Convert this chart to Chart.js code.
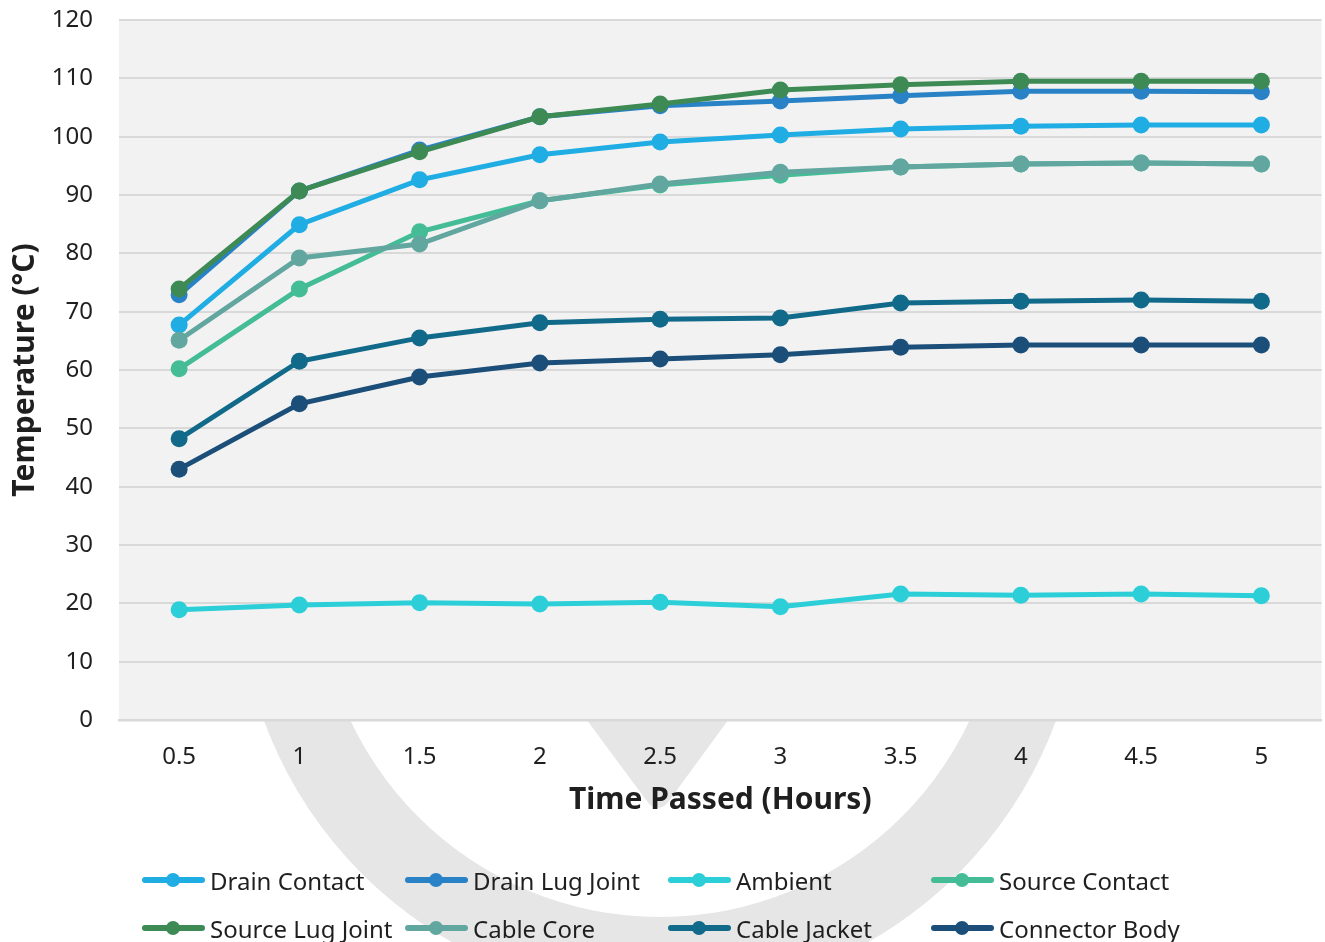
<!DOCTYPE html>
<html>
<head>
<meta charset="utf-8">
<script src="https://cdn.jsdelivr.net/npm/chart.js@4"></script>
<style>
  html, body { margin: 0; padding: 0; background: #fff; overflow: hidden; }
  #wrap { position: relative; width: 1325px; height: 942px; overflow: hidden; }
  #legend {
    position: absolute; left: 142px; top: 856px;
    display: grid; grid-template-columns: repeat(4, 263px); row-gap: 0;
    font-family: "Noto Sans", sans-serif; font-size: 24px; color: #1f1f1f;
  }
  .lg-item { display: flex; align-items: center; height: 48px; white-space: nowrap; }
  .lg-sym { position: relative; flex: none; width: 63px; height: 6px; border-radius: 3px; margin-right: 5px; }
  .lg-sym span { position: absolute; left: 24px; top: -4px; width: 14px; height: 14px; border-radius: 50%; }
</style>
</head>
<body>
<div id="wrap">
  <canvas id="c" width="1330" height="942"></canvas>
  <div id="legend"></div>
</div>
<script>
// ── Data ──
const hours = ['0.5', '1', '1.5', '2', '2.5', '3', '3.5', '4', '4.5', '5'];

const drainContact   = [67.7, 84.9, 92.6, 96.9, 99.1, 100.3, 101.3, 101.8, 102.0, 102.0];
const drainLugJoint  = [72.9, 90.7, 97.7, 103.4, 105.3, 106.1, 107.0, 107.8, 107.8, 107.7];
const ambient        = [18.9, 19.7, 20.1, 19.9, 20.2, 19.4, 21.6, 21.4, 21.6, 21.3];
const sourceContact  = [60.2, 73.9, 83.7, 89.0, 91.7, 93.4, 94.8, 95.3, 95.5, 95.3];
const sourceLugJoint = [73.9, 90.7, 97.4, 103.4, 105.6, 108.0, 108.9, 109.5, 109.5, 109.5];
const cableCore      = [65.1, 79.2, 81.6, 89.0, 91.9, 93.9, 94.8, 95.3, 95.5, 95.3];
const cableJacket    = [48.2, 61.5, 65.5, 68.1, 68.7, 68.9, 71.5, 71.8, 72.0, 71.8];
const connectorBody  = [43.0, 54.2, 58.8, 61.2, 61.9, 62.6, 63.9, 64.3, 64.3, 64.3];

const seriesNames  = ['Drain Contact', 'Drain Lug Joint', 'Ambient', 'Source Contact',
                      'Source Lug Joint', 'Cable Core', 'Cable Jacket', 'Connector Body'];
const seriesValues = [drainContact, drainLugJoint, ambient, sourceContact,
                      sourceLugJoint, cableCore, cableJacket, connectorBody];
const seriesColors = ['#1fade3', '#2a82c6', '#2ccfd7', '#44bc96',
                      '#3e8a55', '#62a6a0', '#116a8a', '#1b4f79'];

const FONT = '"Noto Sans", sans-serif';
const TEXT = '#1f1f1f';

// ── Watermark + plot background ──
const backdrop = {
  id: 'backdrop',
  beforeDraw(chart) {
    const { ctx, chartArea: a } = chart;
    ctx.save();
    ctx.fillStyle = '#e6e6e6';
    // ring
    ctx.beginPath();
    ctx.arc(660, 575, 422, 0, Math.PI * 2);
    ctx.arc(660, 575, 342, 0, Math.PI * 2, true);
    ctx.fill('evenodd');
    // wedge
    ctx.beginPath();
    ctx.moveTo(498, 600);
    ctx.lineTo(816, 600);
    ctx.arcTo(658, 816, 498, 600, 12);
    ctx.closePath();
    ctx.fill();
    // plot area
    ctx.fillStyle = '#f2f2f2';
    ctx.fillRect(a.left, a.top, a.right - a.left, a.bottom - a.top);
    ctx.restore();
  }
};

const datasets = seriesNames.map((name, i) => ({
  label: name,
  data: seriesValues[i],
  borderColor: seriesColors[i],
  backgroundColor: seriesColors[i],
  pointBackgroundColor: seriesColors[i],
  borderWidth: 5,
  pointRadius: 8.5,
  pointBorderWidth: 0,
  pointHoverRadius: 8.5,
  tension: 0,
  order: -i,
}));

new Chart(document.getElementById('c'), {
  type: 'line',
  data: { labels: hours, datasets },
  options: {
    responsive: false,
    animation: false,
    layout: { padding: { top: 20, right: 0, bottom: 0, left: 0 } },
    plugins: { legend: { display: false }, tooltip: { enabled: false } },
    scales: {
      x: {
        offset: true,
        grid: { display: false, drawTicks: false },
        border: { display: true, color: '#d9d9d9', width: 2.5 },
        ticks: { color: TEXT, font: { family: FONT, size: 24 }, padding: 23, maxRotation: 0 },
        title: { display: true, text: 'Time Passed (Hours)', color: TEXT,
                 font: { family: FONT, size: 30, weight: 'bold' }, padding: { top: 0, bottom: 124 } },
        afterFit: s => { s.height = 222; s.paddingLeft = 0; s.paddingRight = 0; },
      },
      y: {
        min: 0, max: 120,
        grid: { color: '#d9d9d9', lineWidth: 2, drawTicks: false },
        border: { display: false },
        ticks: { stepSize: 10, color: TEXT, font: { family: FONT, size: 24 }, padding: 26 },
        title: { display: true, text: 'Temperature (°C)', color: TEXT,
                 font: { family: FONT, size: 30, weight: 'bold' }, padding: { top: 7, bottom: 0 } },
        afterFit: s => { s.width = 119; s.paddingTop = 14; s.paddingBottom = 14; },
      },
    },
  },
  plugins: [backdrop],
});

// ── HTML legend ──
document.getElementById('legend').innerHTML = seriesNames.map((name, i) =>
  `<div class="lg-item"><div class="lg-sym" style="background:${seriesColors[i]}"><span style="background:${seriesColors[i]}"></span></div>${name}</div>`
).join('');
</script>
</body>
</html>
